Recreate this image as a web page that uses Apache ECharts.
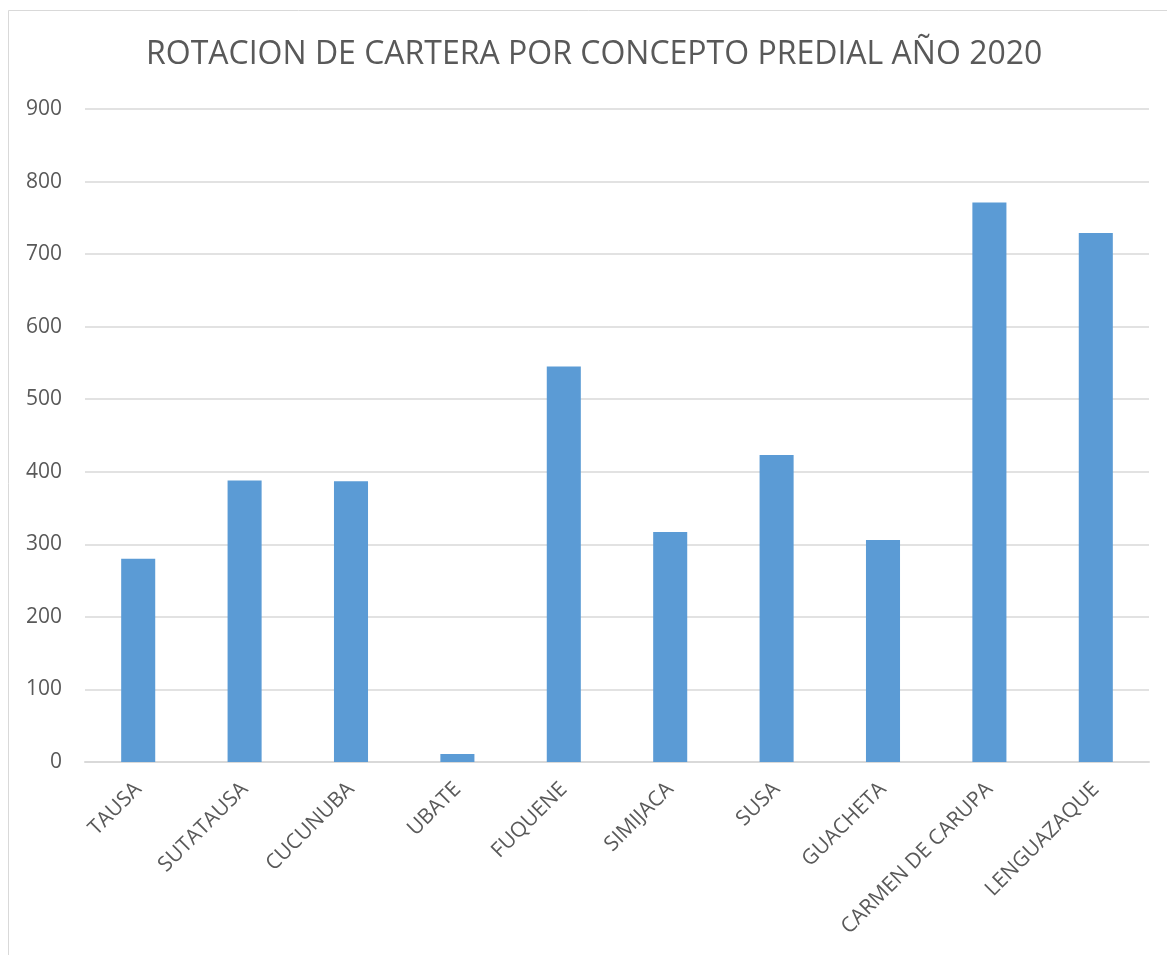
<!DOCTYPE html>
<html>
<head>
<meta charset="utf-8">
<script src="https://cdn.jsdelivr.net/npm/echarts@6/dist/echarts.min.js"></script>
<style>
  html, body { margin: 0; padding: 0; background: #fff; }
  #chart { width: 1167px; height: 955px; }
</style>
</head>
<body>
<div id="chart"></div>
<script>
// municipios y valores
const municipios = ['TAUSA', 'SUTATAUSA', 'CUCUNUBA', 'UBATE', 'FUQUENE', 'SIMIJACA', 'SUSA', 'GUACHETA', 'CARMEN DE CARUPA', 'LENGUAZAQUE']
const rotacion = [280, 388, 387, 11, 545, 317, 423, 306, 771, 729]
const tituloTexto = 'ROTACION DE CARTERA POR CONCEPTO PREDIAL AÑO 2020'

const myChart = echarts.init(document.getElementById('chart'))
const fontFam = '"Open Sans", "Liberation Sans", sans-serif'

const option = {
  animation: false,
  backgroundColor: '#fff',
  graphic: [
    {
      type: 'rect',
      shape: { x: 8.5, y: 10.5, width: 1200, height: 1000 },
      style: { fill: 'none', stroke: '#d9d9d9', lineWidth: 1 },
      silent: true
    }
  ],
  title: {
    text: tituloTexto,
    left: 141,
    top: 34,
    textStyle: {
      color: '#595959',
      fontSize: 32,
      fontWeight: 'normal',
      fontFamily: fontFam
    }
  },
  grid: {
    left: 85,
    right: 18,
    top: 109,
    bottom: 193,
    containLabel: false
  },
  xAxis: {
    type: 'category',
    data: municipios,
    axisLine: { lineStyle: { color: '#d9d9d9', width: 2 } },
    axisTick: { show: false },
    axisLabel: {
      rotate: 45,
      interval: 0,
      margin: 24,
      color: '#595959',
      fontSize: 21,
      fontFamily: fontFam
    }
  },
  yAxis: {
    type: 'value',
    min: 0,
    max: 900,
    interval: 100,
    axisLine: { show: false },
    axisTick: { show: false },
    splitLine: { lineStyle: { color: '#d9d9d9', width: 1.5 } },
    axisLabel: {
      margin: 23,
      color: '#595959',
      fontSize: 21,
      fontFamily: fontFam
    }
  },
  series: [
    {
      type: 'bar',
      data: rotacion,
      barWidth: '32%',
      itemStyle: { color: '#5b9bd5' }
    }
  ]
}
myChart.setOption(option)
</script>
</body>
</html>
